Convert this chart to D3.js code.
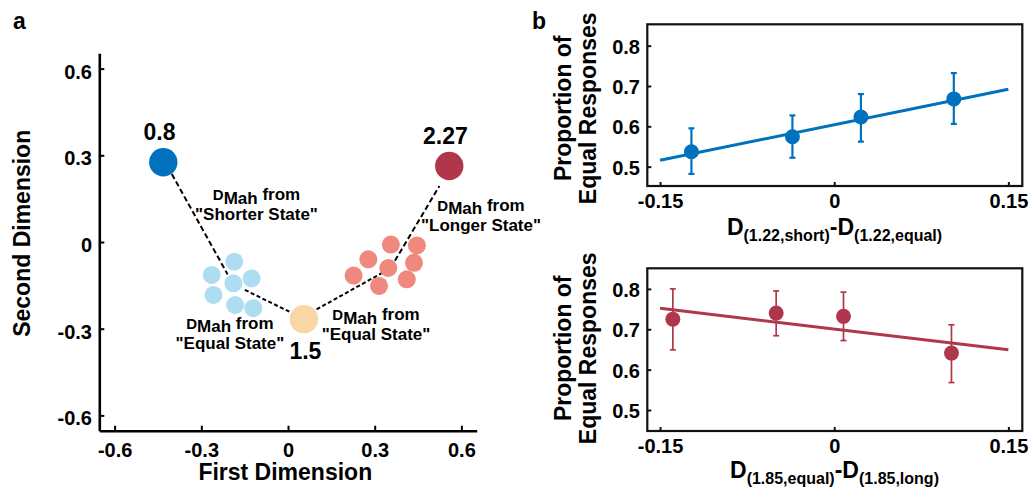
<!DOCTYPE html>
<html><head><meta charset="utf-8">
<script src="https://cdn.jsdelivr.net/npm/d3@7"></script>
<style>
body{margin:0;background:#fff}
svg text{font-family:"Liberation Sans",Arial,Helvetica,sans-serif;font-weight:bold;fill:#000}
</style></head><body>
<svg id="chart" width="1032" height="492"></svg>
<script>
// ---------- Panel a data ----------
const mdsTicks = [-0.6, -0.3, 0, 0.3, 0.6];
const mdsTickLabels = ["-0.6", "-0.3", "0", "0.3", "0.6"];
const stateDurations = ["0.8", "1.5", "2.27"];
const stateX = [-0.4315, 0.055, 0.558];
const stateY = [0.276, -0.267, 0.263];
const shortClusterX = [-0.264, -0.186, -0.126, -0.189, -0.258, -0.183, -0.120];
const shortClusterY = [-0.114, -0.068, -0.126, -0.143, -0.183, -0.218, -0.229];
const longClusterX = [0.356, 0.446, 0.278, 0.436, 0.347, 0.227, 0.411, 0.315];
const longClusterY = [-0.009, -0.012, -0.060, -0.072, -0.090, -0.116, -0.129, -0.152];
const linkX1 = [-0.402, -0.149, 0.099, 0.370];
const linkY1 = [0.235, -0.166, -0.233, -0.065];
const linkX2 = [-0.209, 0.0045, 0.324, 0.524];
const linkY2 = [-0.112, -0.241, -0.108, 0.194];
const annoX = [-0.109, -0.201, 0.3045, 0.668];
const annoY = [0.145, -0.301, -0.270, 0.108];
const annoState = ["\"Shorter State\"", "\"Equal State\"", "\"Equal State\"", "\"Longer State\""];

// ---------- Panel b data ----------
const diffTicks = [-0.15, 0, 0.15];
const diffTickLabels = ["-0.15", "0", "0.15"];
const propTicks = [0.5, 0.6, 0.7, 0.8];
const propTickLabels = ["0.5", "0.6", "0.7", "0.8"];
const shortDiff = [-0.123, -0.036, 0.023, 0.103];
const shortProp = [0.537, 0.574, 0.623, 0.668];
const shortLo = [0.482, 0.522, 0.562, 0.606];
const shortHi = [0.595, 0.627, 0.680, 0.732];
const shortFitX = [-0.15, 0.15];
const shortFitY = [0.516, 0.692];
const longDiff = [-0.139, -0.050, 0.008, 0.101];
const longProp = [0.725, 0.740, 0.732, 0.641];
const longLo = [0.649, 0.684, 0.672, 0.568];
const longHi = [0.800, 0.795, 0.792, 0.711];
const longFitX = [-0.15, 0.15];
const longFitY = [0.752, 0.649];

const BLUE = "#0071BC", RED = "#B0374B", LBLUE = "#AEDCF0", PINK = "#EF887D", YELLOW = "#F8D7A4";
const svg = d3.select("#chart");

// panel letters
svg.append("text").attr("x", 13).attr("y", 29).attr("font-size", 23).text("a");
svg.append("text").attr("x", 532).attr("y", 29).attr("font-size", 23).text("b");

// ---------- Panel a ----------
const xA = d3.scaleLinear().domain([-0.653, 0.653]).range([99.3, 476.7]);
const yA = d3.scaleLinear().domain([-0.653, 0.653]).range([430.7, 53.3]);
const gA = svg.append("g");

const axL = gA.append("g").attr("transform", `translate(${xA.range()[0]},0)`)
  .call(d3.axisLeft(yA).tickValues(mdsTicks).tickSizeInner(-5).tickSizeOuter(0).tickPadding(7.3)
    .tickFormat((d, i) => mdsTickLabels[i]));
const axB = gA.append("g").attr("transform", `translate(0,${yA.range()[0]})`)
  .call(d3.axisBottom(xA).tickValues(mdsTicks).tickSizeInner(-5).tickSizeOuter(0).tickPadding(11.8)
    .tickFormat((d, i) => mdsTickLabels[i]));
[axL, axB].forEach(a => {
  a.select(".domain").attr("stroke", "#000").attr("stroke-width", 2.6);
  a.selectAll(".tick line").attr("stroke", "#000").attr("stroke-width", 2);
  a.selectAll("text").attr("font-size", 20).attr("font-family", null).attr("fill", "#000");
});
axL.selectAll("text").attr("dy", "0.47em");

// dashed links
const links = linkX1.map((d, i) => ({x1: d, y1: linkY1[i], x2: linkX2[i], y2: linkY2[i], i}));
gA.selectAll("line.link").data(links).join("line").attr("class", "link")
  .attr("x1", d => xA(d.x1)).attr("y1", d => yA(d.y1))
  .attr("x2", d => xA(d.x2)).attr("y2", d => yA(d.y2))
  .attr("stroke", "#000").attr("stroke-width", 2)
  .attr("stroke-dasharray", d => (d.i === 1 || d.i === 2) ? "4,2.5" : "5.5,3");

// clusters
gA.selectAll("circle.sc").data(shortClusterX.map((d, i) => [d, shortClusterY[i]])).join("circle")
  .attr("class", "sc").attr("cx", d => xA(d[0])).attr("cy", d => yA(d[1])).attr("r", 9).attr("fill", LBLUE);
gA.selectAll("circle.lc").data(longClusterX.map((d, i) => [d, longClusterY[i]])).join("circle")
  .attr("class", "lc").attr("cx", d => xA(d[0])).attr("cy", d => yA(d[1])).attr("r", 9).attr("fill", PINK);

// states
const stateColors = [BLUE, YELLOW, RED];
gA.selectAll("circle.st").data(stateX.map((d, i) => ({x: d, y: stateY[i], i}))).join("circle")
  .attr("class", "st").attr("cx", d => xA(d.x)).attr("cy", d => yA(d.y)).attr("r", 14.2)
  .attr("fill", d => stateColors[d.i]);
gA.selectAll("text.sl").data(stateX.map((d, i) => ({x: d, y: stateY[i], t: stateDurations[i]}))).join("text")
  .attr("class", "sl").attr("text-anchor", "middle").attr("font-size", 23)
  .attr("x", d => xA(d.x) + (d.y < 0 ? 1.5 : -3.8))
  .attr("y", d => yA(d.y) + (d.y < 0 ? 40 : -22.2))
  .text(d => d.t);

// annotations
annoX.forEach((ax, i) => {
  const t = gA.append("text").attr("text-anchor", "middle").attr("x", xA(ax)).attr("y", yA(annoY[i]));
  t.append("tspan").attr("font-size", 15).text("D");
  t.append("tspan").attr("font-size", 17).attr("dy", 3.5).text("Mah");
  t.append("tspan").attr("font-size", 17).attr("dy", -3.5).text(" from");
  gA.append("text").attr("text-anchor", "middle").attr("x", xA(ax)).attr("y", yA(annoY[i]) + 20)
    .attr("font-size", 17).text(annoState[i]);
});

// axis titles
svg.append("text").attr("transform", "translate(30,233.3) rotate(-90)").attr("text-anchor", "middle")
  .attr("font-size", 23).text("Second Dimension");
svg.append("text").attr("x", 285.3).attr("y", 480).attr("text-anchor", "middle")
  .attr("font-size", 23).text("First Dimension");

// ---------- Panel b ----------
const xB = d3.scaleLinear().domain([-0.161, 0.162]).range([647.3, 1022.3]);
function drawPanel(cfg) {
  const y = d3.scaleLinear().domain(cfg.ydom).range(cfg.yrange);
  const g = svg.append("g");
  g.append("rect").attr("x", xB.range()[0]).attr("y", y.range()[1])
    .attr("width", xB.range()[1] - xB.range()[0]).attr("height", y.range()[0] - y.range()[1])
    .attr("fill", "none").attr("stroke", "#111").attr("stroke-width", 2.2);
  const ax = g.append("g").attr("transform", `translate(0,${y.range()[0]})`)
    .call(d3.axisBottom(xB).tickValues(diffTicks).tickSizeInner(-4).tickSizeOuter(0).tickPadding(8.1)
      .tickFormat((d, i) => diffTickLabels[i]));
  const ay = g.append("g").attr("transform", `translate(${xB.range()[0]},0)`)
    .call(d3.axisLeft(y).tickValues(propTicks).tickSizeInner(-4).tickSizeOuter(0).tickPadding(7.3)
      .tickFormat((d, i) => propTickLabels[i]));
  [ax, ay].forEach(a => {
    a.select(".domain").remove();
    a.selectAll(".tick line").attr("stroke", "#111").attr("stroke-width", 2);
    a.selectAll("text").attr("font-size", 20).attr("font-family", null).attr("fill", "#000");
  });
  ay.selectAll("text").attr("dy", "0.38em");

  // fit line
  g.append("path").datum(cfg.fitX.map((d, i) => [d, cfg.fitY[i]]))
    .attr("d", d3.line().x(d => xB(d[0])).y(d => y(d[1])))
    .attr("stroke", cfg.color).attr("stroke-width", 3).attr("fill", "none");
  const pts = cfg.px.map((d, i) => ({x: d, y: cfg.py[i], lo: cfg.lo[i], hi: cfg.hi[i]}));
  const eb = g.selectAll("g.eb").data(pts).join("g").attr("class", "eb")
    .attr("stroke", cfg.color).attr("stroke-width", cfg.ebw);
  eb.append("line").attr("x1", d => xB(d.x)).attr("x2", d => xB(d.x)).attr("y1", d => y(d.lo)).attr("y2", d => y(d.hi));
  eb.append("line").attr("x1", d => xB(d.x) - 3).attr("x2", d => xB(d.x) + 3).attr("y1", d => y(d.lo)).attr("y2", d => y(d.lo));
  eb.append("line").attr("x1", d => xB(d.x) - 3).attr("x2", d => xB(d.x) + 3).attr("y1", d => y(d.hi)).attr("y2", d => y(d.hi));
  g.selectAll("circle.pt").data(pts).join("circle").attr("class", "pt")
    .attr("cx", d => xB(d.x)).attr("cy", d => y(d.y)).attr("r", 7.5).attr("fill", cfg.color);

  // y title (two lines)
  const cy = cfg.ytitleY;
  g.append("text").attr("transform", `translate(571,${cy}) rotate(-90)`).attr("text-anchor", "middle")
    .attr("font-size", 23).text("Proportion of");
  g.append("text").attr("transform", `translate(596,${cy}) rotate(-90)`).attr("text-anchor", "middle")
    .attr("font-size", 23).text("Equal Responses");
  // x title with subscripts
  const t = g.append("text").attr("text-anchor", "middle").attr("x", 834.5).attr("y", cfg.xtitleY);
  t.append("tspan").attr("font-size", 23).text("D");
  t.append("tspan").attr("font-size", 16).attr("dy", 6).text(cfg.sub1);
  t.append("tspan").attr("font-size", 23).attr("dy", -6).text("-D");
  t.append("tspan").attr("font-size", 16).attr("dy", 6).text(cfg.sub2);
}
drawPanel({ydom: [0.452, 0.853], yrange: [186, 24.3], color: BLUE, ebw: 2.2,
  px: shortDiff, py: shortProp, lo: shortLo, hi: shortHi, fitX: shortFitX, fitY: shortFitY,
  ytitleY: 108.3, xtitleY: 235, sub1: "(1.22,short)", sub2: "(1.22,equal)"});
drawPanel({ydom: [0.448, 0.851], yrange: [431, 268.3], color: RED, ebw: 1.7,
  px: longDiff, py: longProp, lo: longLo, hi: longHi, fitX: longFitX, fitY: longFitY,
  ytitleY: 348.3, xtitleY: 478, sub1: "(1.85,equal)", sub2: "(1.85,long)"});
</script>
</body></html>
